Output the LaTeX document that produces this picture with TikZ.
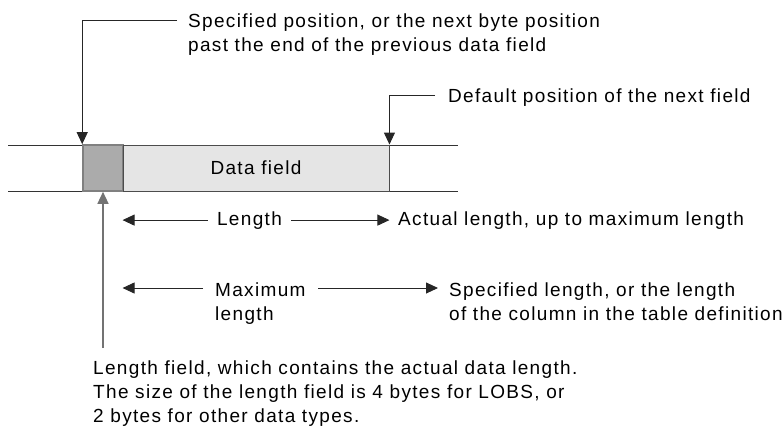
\documentclass[tikz,border=0pt]{standalone}
\usepackage{fontspec}
\setmainfont{Liberation Sans}[LetterSpace=7]
\usetikzlibrary{arrows.meta,positioning}

\begin{document}
\begin{tikzpicture}[
    x=1pt, y=-1pt,
    font=\fontsize{19}{24}\selectfont,
    rule/.style={draw=black!80, line width=0.9pt},
    lead/.style={draw=black!85, line width=0.9pt, -{Triangle[length=12pt,width=11pt]}},
    lenbox/.style={draw=black!50, line width=1.6pt, fill=black!33,
                   minimum width=40pt, minimum height=46pt, inner sep=0pt},
    databox/.style={draw=black!70, line width=0.9pt, fill=black!10,
                    minimum width=266pt, minimum height=46pt, inner sep=0pt},
    txt/.style={inner sep=0pt, align=left, anchor=base west},
    lbl/.style={inner ysep=0pt, inner xsep=9pt, anchor=base}
]
    \useasboundingbox (0,0) rectangle (784,432);

    % Record boundaries
    \coordinate (topL) at (8,145);
    \coordinate (topR) at (458,145);
    \coordinate (botL) at (8,191);
    \coordinate (botR) at (458,191);
    \draw[rule] (topL) -- (topR);
    \draw[rule] (botL) -- (botR);

    % Fields
    \node[lenbox] (lenfld) at (103,168) {};
    \node[databox] (datafld) at (256,168) {Data field};

    % Callouts above (base = last line)
    \node[txt] (specpos) at (188,51) {Specified position, or the next byte position\\past the end of the previous data field};
    \node[txt] (dfltpos) at (448,102) {Default position of the next field};
    \coordinate (specL) at ([shift={(-11,-31)}]specpos.base west);
    \coordinate (dfltL) at ([shift={(-13,-7)}]dfltpos.base west);
    \draw[lead] (specL) -| (lenfld.north west);
    \draw[lead] (dfltL) -| (datafld.north east);

    % Length rows
    \node[lbl] (lenlbl) at (249.5,225) {Length};
    \node[txt] (actual) at (398,225) {Actual length, up to maximum length};
    \draw[lead] (lenlbl.west) -- (lenlbl.west -| datafld.west);
    \draw[lead] (lenlbl.east) -- (lenlbl.east -| datafld.east);

    \node[txt] (maxlbl) at (215,320) {Maximum\\length};
    \node[txt] (speclen) at (449,320) {Specified length, or the length\\of the column in the table definition};
    \coordinate (maxL) at (203,288);
    \coordinate (maxR) at (318,288);
    \coordinate (maxtip) at (438,288);
    \draw[lead] (maxL) -- (maxL -| datafld.west);
    \draw[lead] (maxR) -- (maxtip);

    % Length field note
    \node[txt] (lennote) at (93,422) {Length field, which contains the actual data length.\\The size of the length field is 4 bytes for LOBS, or\\2 bytes for other data types.};
    \coordinate (lenfoot) at (103,348);
    \draw[lead, draw=black!55, line width=1.4pt] (lenfoot) -- (lenfld.south);
\end{tikzpicture}
\end{document}
